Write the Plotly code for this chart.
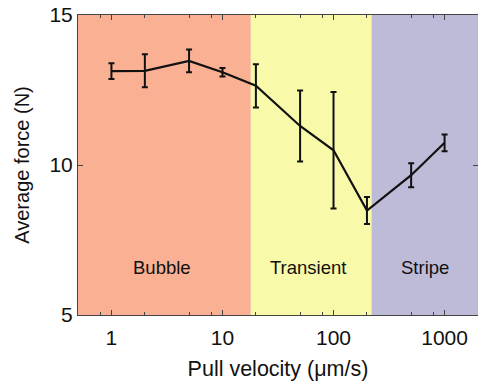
import math
import plotly.graph_objects as go

# data
velocity = [1, 2, 5, 10, 20, 50, 100, 200, 500, 1000]
force = [13.13, 13.14, 13.47, 13.09, 12.64, 11.30, 10.49, 8.48, 9.66, 10.74]
force_err = [0.26, 0.55, 0.38, 0.14, 0.72, 1.18, 1.94, 0.45, 0.40, 0.28]

region_names = ["Bubble", "Transient", "Stripe"]
region_edges = [0.5, 18, 220, 2000]
region_colors = ["#FAB093", "#F8FAAA", "#BEBBD9"]
label_x = [2.85, 59, 660]
label_y = [6.58, 6.58, 6.58]

x_ticks = [1, 10, 100, 1000]
x_minor = [0.8, 2, 5, 8, 20, 50, 80, 200, 500, 800]
y_ticks = [5, 10, 15]

FONT = "Liberation Sans, Arial, sans-serif"

fig = go.Figure()

shapes = []
for i, name in enumerate(region_names):
    shapes.append(dict(type="rect", xref="x", yref="y",
                       x0=region_edges[i], x1=region_edges[i + 1], y0=5, y1=15,
                       fillcolor=region_colors[i], line=dict(width=0), layer="below"))

fig.add_trace(go.Scatter(
    x=velocity, y=force, mode="lines",
    line=dict(color="#111111", width=2.2),
    error_y=dict(type="data", array=force_err, color="#111111", thickness=2, width=3),
    showlegend=False, hoverinfo="skip",
))

annotations = []
for name, lx, ly in zip(region_names, label_x, label_y):
    annotations.append(dict(x=math.log10(lx), y=ly, xref="x", yref="y", text=name,
                            showarrow=False, font=dict(family=FONT, size=18.5, color="#111111")))

fig.update_layout(
    width=478, height=390,
    margin=dict(l=78, r=0, t=15, b=75),
    paper_bgcolor="white", plot_bgcolor="white",
    shapes=shapes, annotations=annotations,
    font=dict(family=FONT, size=21, color="#111111"),
    xaxis=dict(
        type="log", range=[math.log10(region_edges[0]), math.log10(region_edges[-1])],
        tickvals=x_ticks, ticktext=[str(v) for v in x_ticks],
        ticks="inside", ticklen=5, tickwidth=1, tickcolor="#444",
        minor=dict(tickvals=x_minor, ticks="inside", ticklen=3, tickcolor="#444", showgrid=False),
        showline=True, linecolor="#444", linewidth=1, mirror="ticks",
        showgrid=False, zeroline=False, automargin=False,
        tickfont=dict(size=21), ticklabelstandoff=4,
        title=dict(text="Pull velocity (μm/s)", font=dict(size=21.5), standoff=12),
    ),
    yaxis=dict(
        range=[5, 15], tickvals=y_ticks,
        ticks="inside", ticklen=5, tickwidth=1, tickcolor="#444",
        showline=True, linecolor="#444", linewidth=1, mirror="ticks",
        showgrid=False, zeroline=False, automargin=False,
        tickfont=dict(size=21),
        title=dict(text="Average force (N)", font=dict(size=20), standoff=14),
    ),
)

fig.write_html(
    "out.html",
    config={"displayModeBar": False},
    post_script="document.body.style.margin='0';document.body.style.overflow='hidden';",
)
